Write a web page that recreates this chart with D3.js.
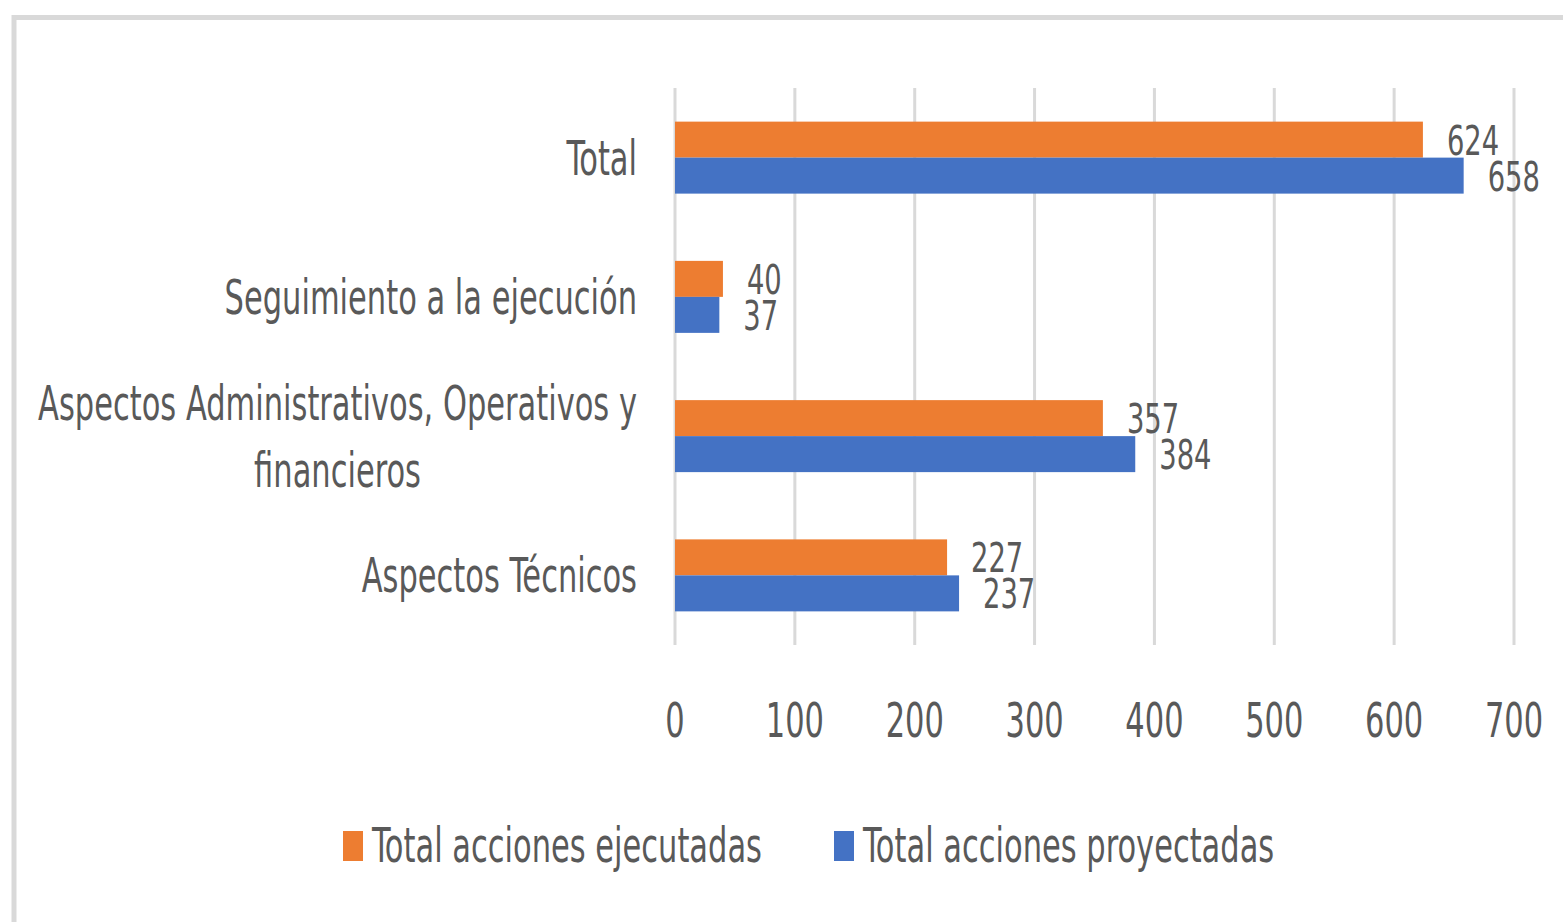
<!DOCTYPE html>
<html>
<head>
<meta charset="utf-8">
<script src="https://cdn.jsdelivr.net/npm/d3@7"></script>
<style>
  body { margin: 0; background: #fff; }
  text { font-family: "Liberation Sans Narrow", "DejaVu Sans Condensed", sans-serif; fill: #595959; }
</style>
</head>
<body>
<div id="chart"></div>
<script>
const categories = ['Total', 'Seguimiento a la ejecución', 'Aspectos Administrativos, Operativos y financieros', 'Aspectos Técnicos'];
const seriesNames = ['Total acciones ejecutadas', 'Total acciones proyectadas'];
const ejecutadas = [624, 40, 357, 227];
const proyectadas = [658, 37, 384, 237];
const xTicks = [0, 100, 200, 300, 400, 500, 600, 700];
const colors = ['#ED7D31', '#4472C4'];

const W = 1563, H = 922;
const fs = 48;
const fsLabel = 41;

const svg = d3.select('#chart')
  .append('svg')
    .attr('width', W)
    .attr('height', H);

// squeeze text horizontally so the legend label is ~390px wide, like the reference
const probe = svg.append('text').attr('font-size', fs).text(seriesNames[0]);
const sx = 390 / probe.node().getComputedTextLength();
probe.remove();

// chart frame
svg.append('rect')
    .attr('x', 14)
    .attr('y', 17.5)
    .attr('width', 1700)
    .attr('height', 1100)
    .attr('fill', 'none')
    .attr('stroke', '#d9d9d9')
    .attr('stroke-width', 5);

const x = d3.scaleLinear().domain([0, 700]).range([675, 1514]);
const y = d3.scaleBand().domain(categories).range([88, 645]).paddingInner(0.483).paddingOuter(0.2415);
const ySub = d3.scaleBand().domain(seriesNames).range([0, y.bandwidth()]);

const place = (px, py, k = 1) => `translate(${px},${py}) scale(${sx * k},1)`;

// gridlines
svg.append('g')
  .selectAll('line')
  .data(xTicks)
  .join('line')
    .attr('x1', d => x(d))
    .attr('x2', d => x(d))
    .attr('y1', 88)
    .attr('y2', 645)
    .attr('stroke', '#d9d9d9')
    .attr('stroke-width', 3);

// tick labels
svg.append('g')
  .selectAll('text')
  .data(xTicks)
  .join('text')
    .attr('transform', d => place(x(d), 737))
    .attr('text-anchor', 'middle')
    .attr('font-size', fs)
    .text(d => d);

// bars
const rows = categories.map((c, i) => ({ cat: c, vals: [ejecutadas[i], proyectadas[i]] }));

const grp = svg.append('g')
  .selectAll('g')
  .data(rows)
  .join('g')
    .attr('transform', d => `translate(0,${y(d.cat)})`);

grp.selectAll('rect')
  .data(d => d.vals.map((v, j) => ({ v, s: seriesNames[j], j })))
  .join('rect')
    .attr('x', x(0))
    .attr('y', d => ySub(d.s))
    .attr('width', d => x(d.v) - x(0))
    .attr('height', ySub.bandwidth())
    .attr('fill', d => colors[d.j]);

grp.selectAll('text')
  .data(d => d.vals.map((v, j) => ({ v, s: seriesNames[j], j })))
  .join('text')
    .attr('transform', d => place(x(d.v) + 24, ySub(d.s) + ySub.bandwidth() / 2 + 15, 1.05))
    .attr('font-size', fsLabel)
    .text(d => d.v);

// category labels with wrapping
const labelRight = 637, maxW = 600, lineH = 67;
const cats = svg.append('g');
const measure = s => {
  const n = cats.append('text').attr('font-size', fs).text(s);
  const w = n.node().getComputedTextLength() * sx;
  n.remove();
  return w;
};
categories.forEach(c => {
  const cy = y(c) + y.bandwidth() / 2;
  const lines = [];
  let cur = [];
  c.split(' ').forEach(w => {
    if (cur.length && measure(cur.concat(w).join(' ')) > maxW) {
      lines.push(cur.join(' '));
      cur = [w];
    } else {
      cur.push(w);
    }
  });
  lines.push(cur.join(' '));

  if (lines.length === 1) {
    cats.append('text')
        .attr('transform', place(labelRight, cy + 17))
        .attr('text-anchor', 'end')
        .attr('font-size', fs)
        .text(lines[0]);
  } else {
    const cx = labelRight - d3.max(lines, measure) / 2;
    const top = cy - (lines.length - 1) * lineH / 2;
    lines.forEach((l, k) => {
      cats.append('text')
          .attr('transform', place(cx, top + k * lineH + 17))
          .attr('text-anchor', 'middle')
          .attr('font-size', fs)
          .text(l);
    });
  }
});

// legend
const legendX = [343, 834];
const leg = svg.append('g')
  .selectAll('g')
  .data(seriesNames)
  .join('g')
    .attr('transform', (d, i) => `translate(${legendX[i]},0)`);

leg.append('rect')
    .attr('x', 0)
    .attr('y', 831)
    .attr('width', 20)
    .attr('height', 30)
    .attr('fill', (d, i) => colors[i]);

leg.append('text')
    .attr('transform', place(29, 862))
    .attr('font-size', fs)
    .text(d => d);
</script>
</body>
</html>
